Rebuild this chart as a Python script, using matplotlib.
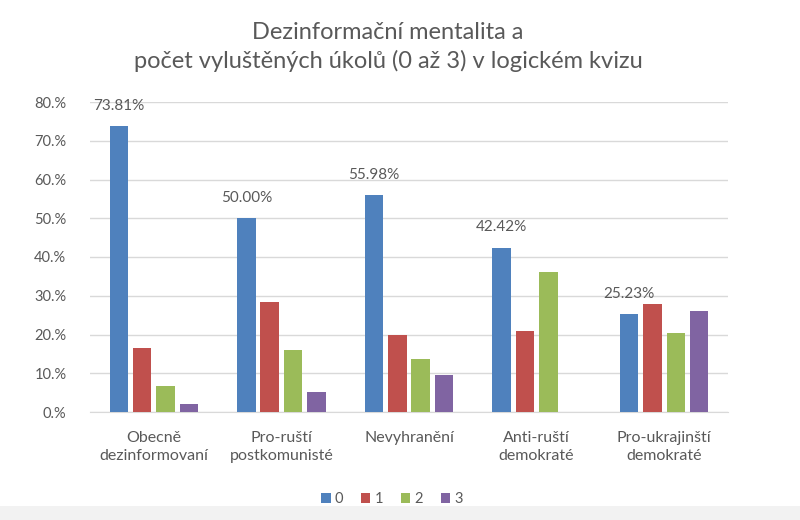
import numpy as np
import matplotlib
matplotlib.use("Agg")
import matplotlib.pyplot as plt
from matplotlib.patches import Rectangle

# data (percent of respondents per group)
categories = ["Obecně\ndezinformovaní", "Pro-ruští\npostkomunisté", "Nevyhranění",
              "Anti-ruští\ndemokraté", "Pro-ukrajinští\ndemokraté"]
series_names = ["0", "1", "2", "3"]
solved_0 = [73.81, 50.00, 55.98, 42.42, 25.23]
solved_1 = [16.6, 28.4, 19.8, 20.9, 28.0]
solved_2 = [6.8, 16.1, 13.7, 36.1, 20.5]
solved_3 = [2.1, 5.2, 9.5, 0.0, 26.0]
y_ticks = [0, 10, 20, 30, 40, 50, 60, 70, 80]
y_tick_labels = ["0.%", "10.%", "20.%", "30.%", "40.%", "50.%", "60.%", "70.%", "80.%"]

colors = ["#4F81BD", "#C0504D", "#9BBB59", "#8064A2"]
text_color = "#595959"
plt.rcParams['font.family'] = ['Lato', 'DejaVu Sans']

fig = plt.figure(figsize=(8, 5.2), dpi=100)
ax = fig.add_axes([90 / 800, 1 - 412 / 520, 638 / 800, 310 / 520])

# grey strip at the very bottom of the screenshot
fig.patches.append(Rectangle((0, 0), 1, 14 / 520, transform=fig.transFigure,
                             facecolor="#f2f2f2", edgecolor="none", zorder=0))

x = np.arange(len(categories))
width = 0.145
step = 0.183
all_series = [solved_0, solved_1, solved_2, solved_3]
for i, vals in enumerate(all_series):
    offs = (i - 1.5) * step
    bars = ax.bar(x + offs, vals, width, color=colors[i], label=series_names[i], zorder=3)
    if i == 0:
        for b, v in zip(bars, vals):
            ax.annotate(f"{v:.2f}%", (b.get_x() + b.get_width() / 2, v),
                        xytext=(0, 14.5), textcoords="offset points",
                        ha="center", va="center", fontsize=11, color=text_color)

ax.set_xlim(-0.5, len(categories) - 0.5)
ax.set_ylim(0, 80)
ax.set_yticks(y_ticks)
ax.set_yticklabels(y_tick_labels)
ax.set_xticks(x)
ax.set_xticklabels(categories, linespacing=1.35)
ax.tick_params(axis="y", length=0, pad=17, labelsize=10.5, labelcolor=text_color)
ax.tick_params(axis="x", length=0, pad=14, labelsize=11.5, labelcolor=text_color)
ax.yaxis.grid(True, color="#d9d9d9", linewidth=1, zorder=0)
for s in ["top", "right", "left"]:
    ax.spines[s].set_visible(False)
ax.spines["bottom"].set_color("#d9d9d9")
ax.set_axisbelow(True)

fig.text(388 / 800, 1 - 39 / 520, "Dezinformační mentalita a", ha="center",
         va="baseline", fontsize=17, color=text_color)
fig.text(388 / 800, 1 - 68 / 520, "počet vyluštěných úkolů (0 až 3) v logickém kvizu",
         ha="center", va="baseline", fontsize=17, color=text_color)

fig.legend(loc="center", bbox_to_anchor=(392 / 800, 1 - 499 / 520), ncol=4,
           frameon=False, fontsize=10.5, handlelength=0.65, handleheight=0.65,
           handletextpad=0.3, columnspacing=1.2, labelcolor=text_color)

fig.savefig("out.png", dpi=100)
